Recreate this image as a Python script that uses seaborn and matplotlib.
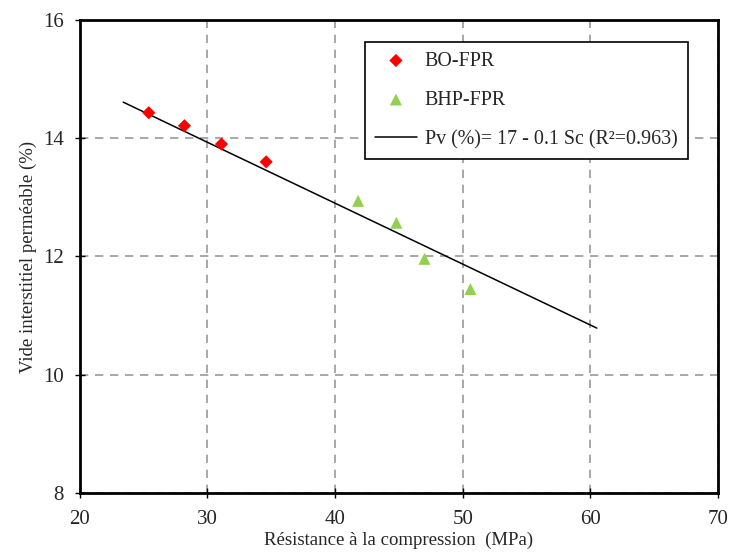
import numpy as np
import pandas as pd
import seaborn as sns
import matplotlib.pyplot as plt

# data
bo_x = [25.4, 28.2, 31.1, 34.6]
bo_y = [14.43, 14.21, 13.90, 13.60]
bhp_x = [41.8, 44.8, 47.0, 50.6]
bhp_y = [12.94, 12.57, 11.96, 11.45]
fit_x = [23.4, 60.5]
fit_a, fit_b = 17.02, -0.103
fit_label = "Pv (%)= 17 - 0.1 Sc (R²=0.963)"

sns.set_style("white")
plt.rcParams['font.family'] = ['Liberation Serif', 'DejaVu Serif']

df_bo = pd.DataFrame({'x': bo_x, 'y': bo_y})
df_bhp = pd.DataFrame({'x': bhp_x, 'y': bhp_y})
df_fit = pd.DataFrame({'x': fit_x, 'y': [fit_a + fit_b * v for v in fit_x]})

fig = plt.figure(figsize=(7.32, 5.53), dpi=100)
ax = fig.add_axes([0.109, 0.1085, 0.872, 0.8555])

sns.scatterplot(data=df_bo, x='x', y='y', ax=ax, marker='D', color='#ff0000',
                s=45, edgecolor='none', label='BO-FPR', zorder=3)
sns.scatterplot(data=df_bhp, x='x', y='y', ax=ax, marker='^', color='#92d050',
                s=75, edgecolor='none', label='BHP-FPR', zorder=3)
sns.lineplot(data=df_fit, x='x', y='y', ax=ax, color='black', lw=1.1,
             label=fit_label, zorder=2)

ax.set_xlim(20, 70)
ax.set_ylim(8, 16)
ax.set_xticks(range(20, 71, 10))
ax.set_yticks(range(8, 17, 2))
ax.grid(True, color='#9a9a9a', linestyle=(0, (5, 4)), lw=1.2)
for s in ax.spines.values():
    s.set_color('black')
    s.set_linewidth(2)
ax.tick_params(direction='inout', length=7, width=1, labelsize=15, color='black',
               bottom=True, left=True)
ax.tick_params(axis='x', pad=9)
ax.tick_params(axis='y', pad=8)
ax.set_xlabel('Résistance à la compression  (MPa)', fontsize=13.5, labelpad=2)
ax.set_ylabel('Vide interstitiel perméable (%)', fontsize=13.5, labelpad=4)

leg = ax.legend(loc='upper right', bbox_to_anchor=(0.968, 0.975), fontsize=14.4,
                frameon=True, fancybox=False, edgecolor='black', framealpha=1,
                labelspacing=1.0, borderpad=0.5, handlelength=2.1, handletextpad=0.4)
leg.get_frame().set_linewidth(1.2)

fig.savefig('out.png', dpi=100)
